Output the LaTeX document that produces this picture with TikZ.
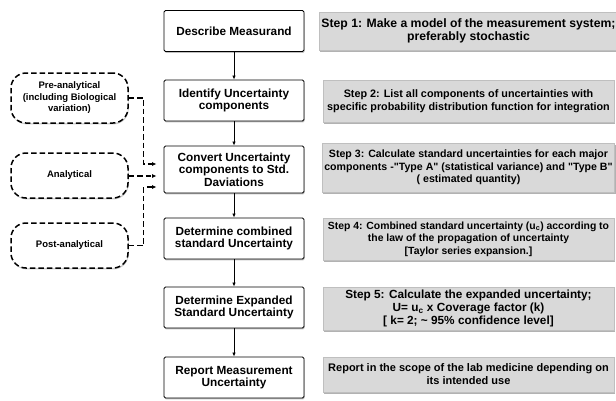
\documentclass[tikz,border=0pt]{standalone}
\usepackage{fontspec}
\setmainfont{Liberation Sans}
\usetikzlibrary{arrows.meta,shadows,calc}
\tikzset{
    block/.style = {draw, rectangle, rounded corners=1.5pt, fill=white,
        line width=0.9pt,
        minimum height=41pt,
        minimum width=140pt, align=center,
        font=\bfseries\fontsize{11.8}{12.6}\selectfont,
        drop shadow={shadow xshift=0.6pt, shadow yshift=-1.4pt, fill=black!50}},
    note/.style = {rectangle, fill=black!15, draw=black!25,
        minimum width=291pt, align=center, inner sep=2pt,
        font=\bfseries\fontsize{10.8}{12.5}\selectfont,
        drop shadow={shadow xshift=1pt, shadow yshift=-1.8pt, fill=black!60}},
    source/.style = {draw, dashed, dash pattern=on 5.5pt off 3pt, line width=1.5pt,
        rounded corners=15pt, fill=white,
        minimum width=117pt, align=center,
        font=\bfseries\fontsize{9.5}{11.5}\selectfont,
        drop shadow={shadow xshift=0.6pt, shadow yshift=-1.4pt, fill=black!40}},
    arrow/.style = {draw, -{Latex[length=4pt,width=3.5pt]}, line width=0.8pt},
    darrow/.style = {draw, dashed, dash pattern=on 5.5pt off 3pt, line width=1.4pt,
        -{Latex[length=4.5pt,width=4pt]}}
}
\begin{document}
\begin{tikzpicture}[x=1pt,y=-1pt]
\useasboundingbox (0,0) rectangle (616,400);
% measurement steps
\node[block] (describe) at (234,31) {Describe Measurand};
\node[block] (identify) at (234,100.5) {Identify Uncertainty\\components};
\node[block, minimum height=47pt] (convert) at (234,169.5) {Convert Uncertainty\\components to Std.\\Daviations};
\node[block] (combined) at (234,238.5) {Determine combined\\standard Uncertainty};
\node[block] (expanded) at (234,307.5) {Determine Expanded\\Standard Uncertainty};
\node[block] (report) at (234,377.5) {Report Measurement\\Uncertainty};
\draw[arrow] (describe) -- (identify);
\draw[arrow] (identify) -- (convert);
\draw[arrow] (convert) -- (combined);
\draw[arrow] (combined) -- (expanded);
\draw[arrow] (expanded) -- (report);
% explanations
\node[note, minimum height=38pt, font=\bfseries\fontsize{12.2}{13}\selectfont] (step1) at (468.5,31) {Step 1: Make a model of the measurement system;\\preferably stochastic};
\node[note, minimum height=42pt] (step2) at (468.5,101) {Step 2: List all components of uncertainties with\\specific probability distribution function for integration};
\node[note, minimum height=49pt, font=\bfseries\fontsize{10.6}{12.5}\selectfont] (step3) at (468.5,167.5) {Step 3: Calculate standard uncertainties for each major\\components -\textquotedbl Type A\textquotedbl{} (statistical variance) and \textquotedbl Type B\textquotedbl\\( estimated quantity)};
\node[note, minimum height=42pt, font=\bfseries\fontsize{10.4}{12.5}\selectfont] (step4) at (468.5,239) {Step 4: Combined standard uncertainty (u\textsubscript{c}) according to\\the law of the propagation of uncertainty\\{[}Taylor series expansion.]};
\node[note, minimum height=43pt, font=\bfseries\fontsize{11.8}{12.8}\selectfont] (step5) at (468.5,308.5) {Step 5: Calculate the expanded uncertainty;\\U= u\textsubscript{c} x Coverage factor (k)\\{[} k= 2; \textasciitilde{} 95\% confidence level]};
\node[note, minimum height=35pt, font=\bfseries\fontsize{11}{13}\selectfont] (step6) at (468.5,374.5) {Report in the scope of the lab medicine depending on\\its intended use};
% sources of uncertainty
\node[source, minimum height=50pt] (pre) at (69.5,98) {Pre-analytical\\(including Biological\\variation)};
\node[source, minimum height=45pt] (ana) at (69.5,175.5) {Analytical};
\node[source, minimum height=45pt] (post) at (69.5,245.5) {Post-analytical};
\coordinate (inpre) at ($(convert.west)+(-7,-5.5)$);
\coordinate (inana) at ($(convert.west)+(-7,6.5)$);
\coordinate (inpost) at ($(convert.west)+(-7,17.5)$);
\draw[darrow] (pre.east) -- ++(15,0) |- (inpre);
\draw[darrow] (ana.east |- inana) -- (inana);
\draw[darrow] (post.east) -- ++(15,0) |- (inpost);
\end{tikzpicture}
\end{document}
